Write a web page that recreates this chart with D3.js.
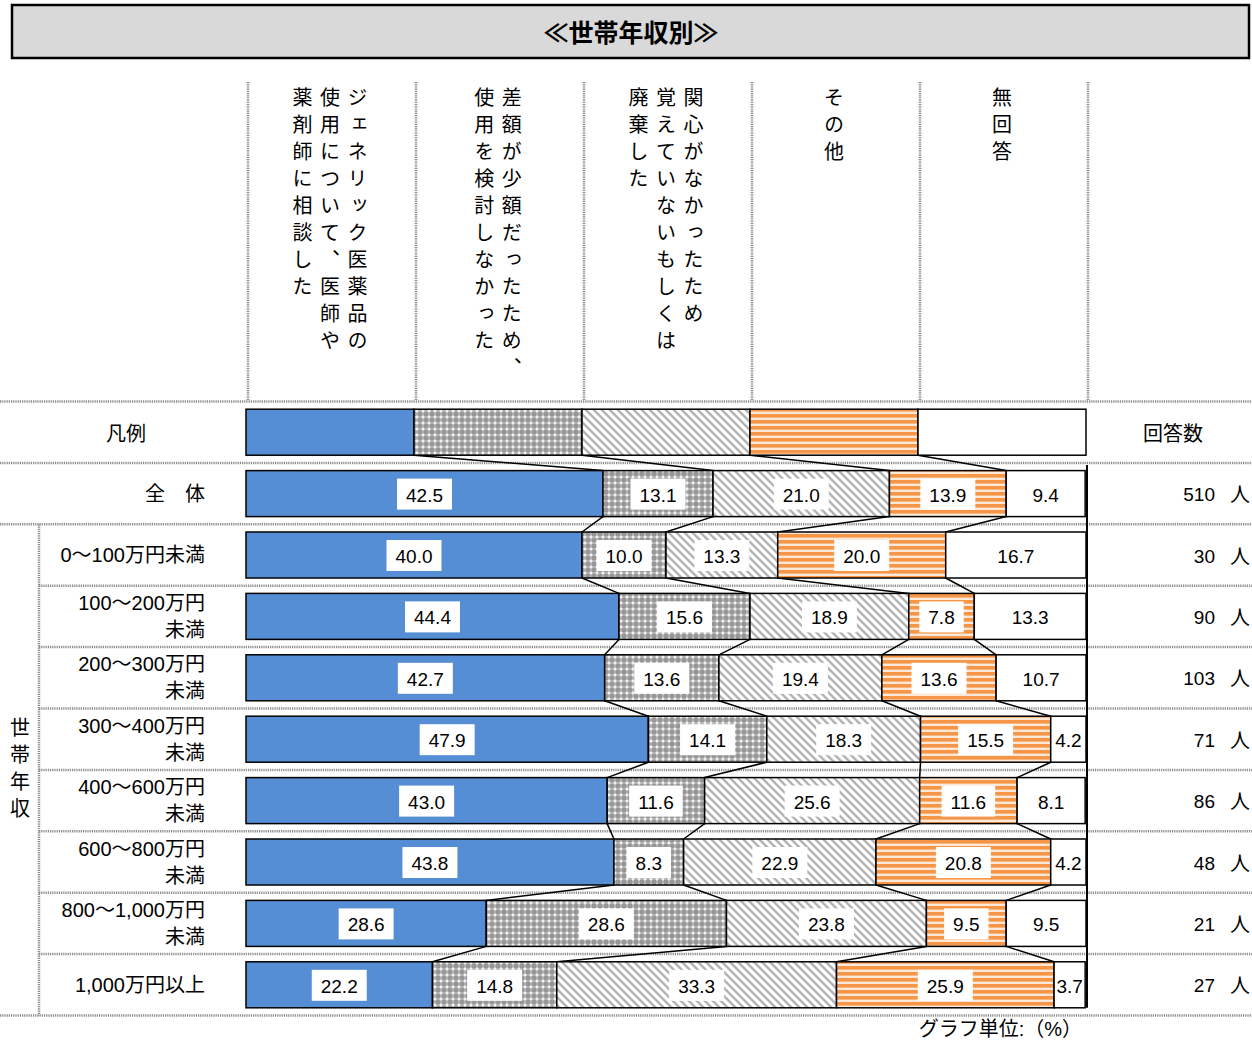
<!DOCTYPE html>
<html>
<head>
<meta charset="utf-8">
<script src="https://cdn.jsdelivr.net/npm/d3@7"></script>
<style>
  body { margin: 0; background: #fff; }
  text { font-family: "Liberation Sans", "Noto Sans CJK JP", sans-serif; fill: #000; }
  .jp { font-family: "Noto Sans CJK JP", sans-serif; }
</style>
</head>
<body>
<svg id="chart" width="1252" height="1043"></svg>
<script>
// 行ラベル（世帯年収）
const groups = [
  ["全　体"],
  ["0〜100万円未満"],
  ["100〜200万円", "未満"],
  ["200〜300万円", "未満"],
  ["300〜400万円", "未満"],
  ["400〜600万円", "未満"],
  ["600〜800万円", "未満"],
  ["800〜1,000万円", "未満"],
  ["1,000万円以上"]
];
const counts = [510, 30, 90, 103, 71, 86, 48, 21, 27];

// 系列ごとの値（%）
const generic    = [42.5, 40.0, 44.4, 42.7, 47.9, 43.0, 43.8, 28.6, 22.2];
const smallDiff  = [13.1, 10.0, 15.6, 13.6, 14.1, 11.6, 8.3, 28.6, 14.8];
const noInterest = [21.0, 13.3, 18.9, 19.4, 18.3, 25.6, 22.9, 23.8, 33.3];
const other      = [13.9, 20.0, 7.8, 13.6, 15.5, 11.6, 20.8, 9.5, 25.9];
const noAnswer   = [9.4, 16.7, 13.3, 10.7, 4.2, 8.1, 4.2, 9.5, 3.7];

const headers = [
  ["ジェネリック医薬品の", "使用について、医師や", "薬剤師に相談した"],
  ["差額が少額だったため、", "使用を検討しなかった"],
  ["関心がなかったため", "覚えていないもしくは", "廃棄した"],
  ["その他"],
  ["無回答"]
];

const keys = ["generic", "smallDiff", "noInterest", "other", "noAnswer"];
const fills = ["#558ed5", "url(#pDots)", "url(#pDiag)", "url(#pStripe)", "#fff"];

// 凡例行 + データ行
const table = [{ generic: 20, smallDiff: 20, noInterest: 20, other: 20, noAnswer: 20 }]
  .concat(generic.map((d, i) => ({
    generic: d, smallDiff: smallDiff[i], noInterest: noInterest[i],
    other: other[i], noAnswer: noAnswer[i]
  })));

const svg = d3.select("#chart");
const W = 1252;

// patterns
const defs = svg.append("defs");
const pd = defs.append("pattern").attr("id", "pDots")
  .attr("patternUnits", "userSpaceOnUse").attr("width", 6).attr("height", 6);
pd.append("rect").attr("width", 6).attr("height", 6).attr("fill", "#979797");
pd.append("rect").attr("x", 2).attr("y", 0.5).attr("width", 2).attr("height", 5).attr("fill", "#c8c8c8");
pd.append("rect").attr("x", 0.5).attr("y", 2).attr("width", 5).attr("height", 2).attr("fill", "#c8c8c8");
pd.append("rect").attr("x", 2).attr("y", 2).attr("width", 2).attr("height", 2).attr("fill", "#f0f0f0");

const pg = defs.append("pattern").attr("id", "pDiag")
  .attr("patternUnits", "userSpaceOnUse").attr("width", 8).attr("height", 8);
pg.append("rect").attr("width", 8).attr("height", 8).attr("fill", "#fff");
pg.append("path").attr("d", "M0,0L8,8M-4,4L4,12M4,-4L12,4")
  .attr("stroke", "#b3b3b3").attr("stroke-width", 2.4);

const ps = defs.append("pattern").attr("id", "pStripe")
  .attr("patternUnits", "userSpaceOnUse").attr("width", 6).attr("height", 6);
ps.append("rect").attr("width", 6).attr("height", 6).attr("fill", "#fde9d9");
ps.append("rect").attr("y", 0).attr("width", 6).attr("height", 3.6).attr("fill", "#f79646");

// title
svg.append("rect").attr("x", 12).attr("y", 5).attr("width", 1237).attr("height", 53)
  .attr("fill", "#d9d9d9").attr("stroke", "#000").attr("stroke-width", 2.5);
svg.append("text").attr("class", "jp").attr("x", 631).attr("y", 31).attr("text-anchor", "middle")
  .attr("dominant-baseline", "central").attr("font-size", 25).attr("font-weight", "bold")
  .text("≪世帯年収別≫");

// scales
const x = d3.scaleLinear().domain([0, 100]).range([246, 1086]);
const y = d3.scaleBand().domain(d3.range(table.length)).range([401.5, 1015.5]);
const barH = 46;
const cy = i => y(i) + y.bandwidth() / 2;

// grid (dotted)
const dot = sel => sel.attr("stroke", "#8a8a8a").attr("stroke-width", 2.5).attr("stroke-dasharray", "1.2,1");
d3.range(table.length + 1).forEach(i => {
  const yy = i < table.length ? y(i) : y(table.length - 1) + y.bandwidth();
  const x0 = (i >= 3 && i < table.length) ? 39 : 0;
  svg.append("line").attr("x1", x0).attr("x2", W).attr("y1", yy).attr("y2", yy).call(dot);
});
svg.append("line").attr("x1", 39).attr("x2", 39).attr("y1", y(2)).attr("y2", 1015.5).call(dot);
d3.range(6).forEach(j => {
  svg.append("line").attr("x1", x(j * 20) + 2).attr("x2", x(j * 20) + 2)
    .attr("y1", 82).attr("y2", 400).call(dot);
});

// header (vertical)
headers.forEach((lines, j) => {
  const cx = x(j * 20 + 10);
  lines.forEach((s, k) => {
    svg.append("text").attr("class", "jp")
      .attr("x", cx + ((lines.length - 1) / 2 - k) * 27.5)
      .attr("y", 87)
      .attr("font-size", 20)
      .style("writing-mode", "vertical-rl")
      .style("letter-spacing", "7px")
      .text(s);
  });
});

// stacked bars
const series = d3.stack().keys(keys)(table);

// connector lines
for (let i = 0; i < table.length - 1; i++) {
  for (let k = 0; k < keys.length - 1; k++) {
    svg.append("line")
      .attr("x1", x(series[k][i][1])).attr("y1", cy(i) + barH / 2)
      .attr("x2", x(series[k][i + 1][1])).attr("y2", cy(i + 1) - barH / 2)
      .attr("stroke", "#000").attr("stroke-width", 1.5);
  }
}

// right axis line
svg.append("line").attr("x1", x(100) + 1).attr("x2", x(100) + 1)
  .attr("y1", y(1) + 2).attr("y2", cy(table.length - 1) + barH / 2)
  .attr("stroke", "#000").attr("stroke-width", 2);

series.forEach((s, k) => {
  svg.append("g").selectAll("rect").data(s).join("rect")
    .attr("x", d => x(d[0]))
    .attr("y", (d, i) => cy(i) - barH / 2)
    .attr("width", d => x(d[1]) - x(d[0]))
    .attr("height", barH)
    .attr("fill", fills[k])
    .attr("stroke", "#000").attr("stroke-width", 1.5);
});

// value labels
series.forEach((s, k) => {
  s.forEach((d, i) => {
    if (i === 0) return;
    const v = d[1] - d[0];
    const mx = (x(d[0]) + x(d[1])) / 2;
    const g = svg.append("g");
    const t = g.append("text").attr("x", mx).attr("y", cy(i) + 1.5)
      .attr("text-anchor", "middle").attr("dominant-baseline", "central")
      .attr("font-size", 19).text(v.toFixed(1));
    if (k < keys.length - 1) {
      const tw = t.node().getComputedTextLength();
      g.insert("rect", "text").attr("x", mx - tw / 2 - 9).attr("y", cy(i) - 15)
        .attr("width", tw + 18).attr("height", 31).attr("fill", "#fff");
    }
  });
});

// left labels
svg.append("text").attr("class", "jp").attr("x", 126).attr("y", cy(0)).attr("text-anchor", "middle")
  .attr("dominant-baseline", "central").attr("font-size", 20).text("凡例");
groups.forEach((lines, i) => {
  lines.forEach((s, k) => {
    svg.append("text").attr("x", 205)
      .attr("y", cy(i + 1) + (k - (lines.length - 1) / 2) * 27)
      .attr("text-anchor", "end").attr("dominant-baseline", "central")
      .attr("font-size", 20).text(s);
  });
});
svg.append("text").attr("class", "jp").attr("x", 20).attr("y", 717).attr("font-size", 20)
  .style("writing-mode", "vertical-rl").style("letter-spacing", "7px").text("世帯年収");

// counts
svg.append("text").attr("class", "jp").attr("x", 1173).attr("y", cy(0)).attr("text-anchor", "middle")
  .attr("dominant-baseline", "central").attr("font-size", 20).text("回答数");
counts.forEach((c, i) => {
  svg.append("text").attr("x", 1215).attr("y", cy(i + 1) + 1).attr("text-anchor", "end")
    .attr("dominant-baseline", "central").attr("font-size", 19).text(c);
  svg.append("text").attr("class", "jp").attr("x", 1240).attr("y", cy(i + 1)).attr("text-anchor", "middle")
    .attr("dominant-baseline", "central").attr("font-size", 20).text("人");
});

svg.append("text").attr("x", 1082).attr("y", 1029).attr("text-anchor", "end")
  .attr("dominant-baseline", "central").attr("font-size", 20).text("グラフ単位:（%）");
</script>
</body>
</html>
